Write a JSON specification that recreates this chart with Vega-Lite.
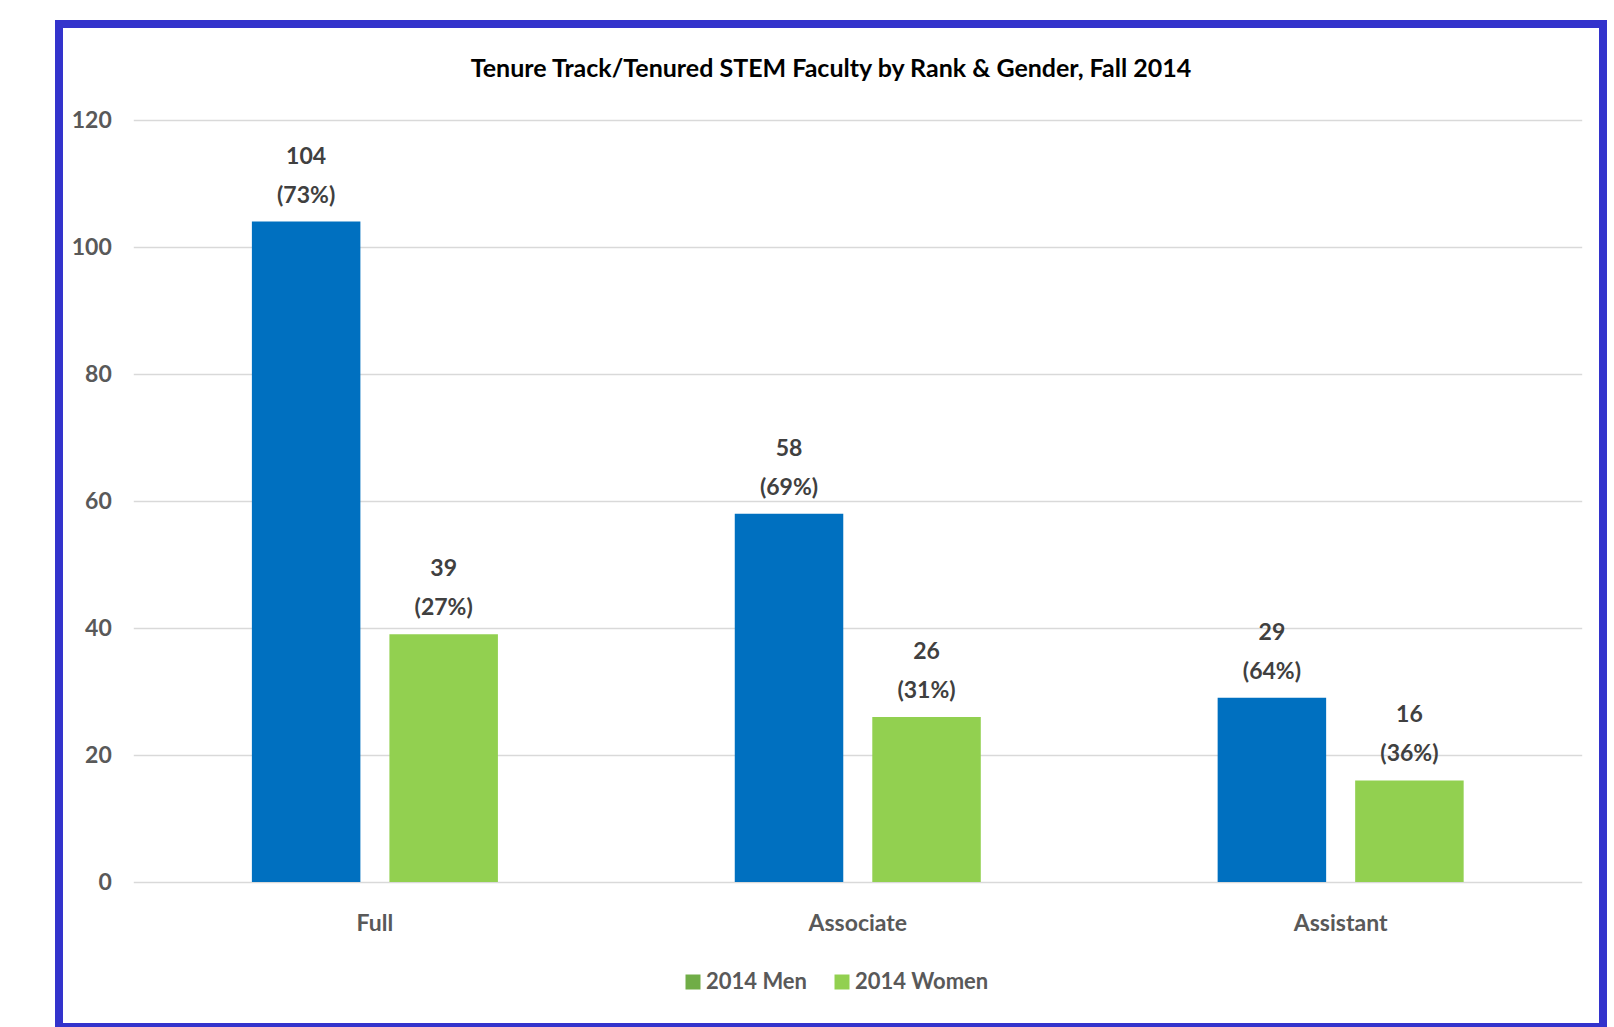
{
  "$schema": "https://vega.github.io/schema/vega-lite/v6.json",
  "width": 1544,
  "height": 1003,
  "autosize": {"type": "none"},
  "padding": {"left": 59, "top": 24, "right": 11, "bottom": 0},
  "background": "white",
  "title": {
    "text": "Tenure Track/Tenured STEM Faculty by Rank & Gender, Fall 2014",
    "anchor": "middle",
    "frame": "group",
    "offset": -58,
    "fontSize": 25,
    "font": "Lato",
    "fontWeight": "bold",
    "color": "#000000"
  },
  "data": {
    "values": [
      {"rank": "Full", "gender": "2014 Men", "count": 104, "label": "104\n(73%)"},
      {"rank": "Full", "gender": "2014 Women", "count": 39, "label": "39\n(27%)"},
      {"rank": "Associate", "gender": "2014 Men", "count": 58, "label": "58\n(69%)"},
      {"rank": "Associate", "gender": "2014 Women", "count": 26, "label": "26\n(31%)"},
      {"rank": "Assistant", "gender": "2014 Men", "count": 29, "label": "29\n(64%)"},
      {"rank": "Assistant", "gender": "2014 Women", "count": 16, "label": "16\n(36%)"}
    ]
  },
  "config": {
    "view": {"stroke": "#3333CC", "strokeWidth": 8},
    "axisX": {
      "offset": -114.3,
      "labelPadding": 0,
      "ticks": false,
      "tickSize": 0,
      "domain": false,
      "grid": false,
      "labelAngle": 0,
      "labelFontSize": 23,
      "labelFont": "Lato",
      "labelFontWeight": "bold",
      "labelColor": "#595959"
    }
  },
  "resolve": {"axis": {"y": "independent"}},
  "layer": [
    {
      "mark": {"type": "bar"},
      "encoding": {
        "x": {
          "field": "rank", "type": "nominal", "sort": ["Full", "Associate", "Assistant"], "title": null,
          "scale": {"paddingInner": 0.4905, "paddingOuter": 0.344, "align": 0.5806}
        },
        "xOffset": {
          "field": "gender", "type": "nominal", "sort": ["2014 Men", "2014 Women"],
          "scale": {"paddingInner": 0.211, "paddingOuter": 0}
        },
        "y": {
          "field": "count", "type": "quantitative",
          "scale": {"domain": [-22.83, 135.12], "nice": false, "zero": false},
          "axis": {
            "orient": "left", "offset": -74.3, "values": [0, 20, 40, 60, 80, 100, 120],
            "grid": false, "ticks": false, "tickSize": 0, "domain": false, "labelPadding": 22,
            "labelFontSize": 23, "labelColor": "#595959",
            "labelFont": "Lato",
            "labelFontWeight": "bold", "title": null, "zindex": 0
          }
        },
        "y2": {"datum": 0},
        "fill": {
          "field": "gender", "type": "nominal",
          "scale": {"domain": ["2014 Men", "2014 Women"], "range": ["#0070C0", "#92D050"]},
          "legend": null
        }
      }
    },
    {
      "mark": {
        "type": "text", "baseline": "bottom", "dy": -53, "lineHeight": 39, "lineBreak": "\n",
        "fontSize": 23, "font": "Lato",
        "fontWeight": "bold", "color": "#404040"
      },
      "encoding": {
        "x": {"field": "rank", "type": "nominal", "sort": ["Full", "Associate", "Assistant"], "title": null},
        "xOffset": {"field": "gender", "type": "nominal", "sort": ["2014 Men", "2014 Women"]},
        "y": {
          "field": "count", "type": "quantitative",
          "axis": {
            "orient": "right", "offset": -21.3, "values": [0, 20, 40, 60, 80, 100, 120],
            "grid": false, "labels": false, "domain": false, "ticks": true, "tickSize": -1448.4,
            "tickColor": "#D9D9D9", "tickWidth": 1.5, "title": null, "zindex": 0
          }
        },
        "text": {"field": "label"}
      }
    },
    {
      "mark": {"type": "bar"},
      "encoding": {
        "x": {"field": "rank", "type": "nominal", "sort": ["Full", "Associate", "Assistant"], "title": null},
        "xOffset": {"field": "gender", "type": "nominal", "sort": ["2014 Men", "2014 Women"]},
        "y": {"datum": 0, "type": "quantitative", "axis": null},
        "y2": {"datum": 0},
        "color": {
          "field": "gender", "type": "nominal",
          "scale": {"range": ["#70AD47", "#92D050"]},
          "legend": {
            "title": null, "orient": "none", "legendX": 623, "legendY": 947,
            "direction": "horizontal", "symbolType": "square", "symbolSize": 225,
            "symbolStrokeWidth": 0, "labelFontSize": 22,
            "labelFont": "Lato",
            "labelFontWeight": "bold", "labelColor": "#595959", "labelOffset": 2,
            "columnPadding": 24, "labelLimit": 300
          }
        }
      }
    }
  ]
}
